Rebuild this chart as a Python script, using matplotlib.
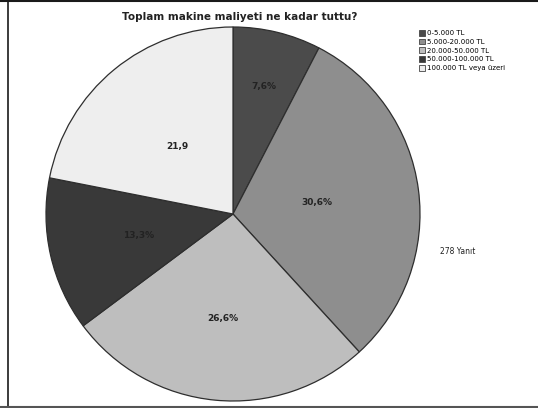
import numpy as np
import matplotlib.pyplot as plt
from matplotlib.lines import Line2D
from matplotlib.patches import Patch

categories = ["0-5.000 TL", "5.000-20.000 TL", "20.000-50.000 TL",
              "50.000-100.000 TL", "100.000 TL veya üzeri"]
shares = [7.6, 30.6, 26.6, 13.3, 21.9]
value_labels = ["7,6%", "30,6%", "26,6%", "13,3%", "21,9"]
respondents = "278 Yanıt"

colors = ["#4b4b4b", "#8e8e8e", "#bebebe", "#393939", "#eeeeee"]
label_radius = [0.70, 0.45, 0.56, 0.52, 0.47]

W, H = 538, 408
fig = plt.figure(figsize=(W / 100, H / 100), dpi=100)

# pie centre (233, 214) px, radius 187 px
cx, cy, r = 233, 214, 187
ax = fig.add_axes([(cx - r) / W, 1 - (cy + r) / H, 2 * r / W, 2 * r / H])
wedges, _ = ax.pie(shares, colors=colors, startangle=90, counterclock=False,
                   wedgeprops=dict(edgecolor="#2e2e2e", linewidth=0.9))
ax.set_xlim(-1, 1)
ax.set_ylim(-1, 1)
ax.set_aspect("auto")

for w, lab, rr in zip(wedges, value_labels, label_radius):
    mid = np.deg2rad((w.theta1 + w.theta2) / 2)
    ax.text(rr * np.cos(mid), rr * np.sin(mid), lab, ha="center", va="center",
            fontsize=6.5, fontweight="semibold", color="#222222")

fig.text(240 / W, 1 - 17 / H, "Toplam makine maliyeti ne kadar tuttu?",
         ha="center", va="center", fontsize=7.5, fontweight="bold", color="#222222")

handles = [Patch(facecolor=c, edgecolor="#444444", linewidth=0.6) for c in colors]
fig.legend(handles, categories, loc="upper left",
           bbox_to_anchor=(419 / W, 1 - 30 / H), frameon=False,
           fontsize=5, handlelength=0.9, handleheight=0.9,
           handletextpad=0.2, labelspacing=0.35, borderpad=0, borderaxespad=0)

fig.text(440 / W, 1 - 252 / H, respondents, ha="left", va="center",
         fontsize=5.5, color="#222222")

# outer frame
fig.add_artist(Line2D([0, 1], [1 - 1 / H, 1 - 1 / H], color="#1a1a1a", linewidth=1.5))
fig.add_artist(Line2D([7.5 / W, 7.5 / W], [0, 1], color="#1a1a1a", linewidth=1.2))
fig.add_artist(Line2D([0, 1], [1.5 / H, 1.5 / H], color="#555555", linewidth=1.5))

fig.savefig("out.png", dpi=100)
